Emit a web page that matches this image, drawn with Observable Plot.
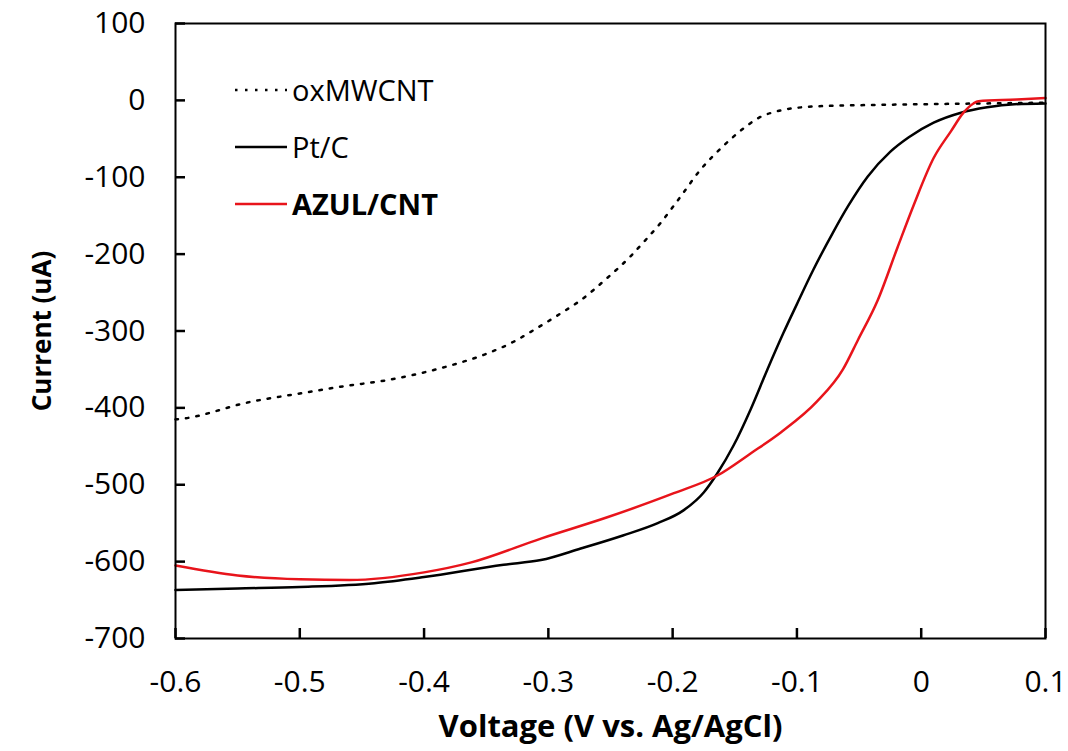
<!DOCTYPE html>
<html>
<head>
<meta charset="utf-8">
<script src="https://cdn.jsdelivr.net/npm/d3@7"></script>
<script src="https://cdn.jsdelivr.net/npm/@observablehq/plot@0.6"></script>
<style>
  html, body { margin: 0; padding: 0; background: #fff; }
  #wrap { position: relative; width: 1068px; height: 751px; font-family: "Open Sans", sans-serif; }
  #wrap > svg { font-family: "Open Sans", sans-serif; }
  g[aria-label="x-axis tick label"] text, g[aria-label="y-axis tick label"] text { font-size: 30px; fill: #000; }
  g[aria-label="x-axis label"] text { font-size: 31px; font-weight: bold; fill: #000; }
  g[aria-label="y-axis label"] text { font-size: 26px; font-weight: bold; fill: #000; }
  #legend { position: absolute; left: 235px; top: 61px; }
  .row { display: flex; align-items: center; height: 57px; }
  .row svg { width: 52px; height: 10px; margin-right: 5px; }
  .row span { font-size: 29px; color: #000; }
</style>
</head>
<body>
<div id="wrap"><div id="legend"></div></div>
<script>
// ---- data (V vs. Ag/AgCl, current in uA) ----
const seriesNames = ["oxMWCNT", "Pt/C", "AZUL/CNT"];

const oxV = [-0.600,-0.594,-0.542,-0.499,-0.465,-0.430,-0.403,-0.377,-0.352,-0.328,-0.312,-0.290,-0.274,-0.254,-0.234,-0.222,-0.210,-0.194,-0.178,-0.159,-0.145,-0.131,-0.113,-0.096,-0.071,-0.040,0.000,0.050,0.100];
const oxI = [-415,-414,-393,-381,-372,-364,-355,-344,-331,-314,-299,-277,-260,-233,-203,-182,-160,-126,-91,-59,-39,-23,-13,-9,-7,-6,-5,-4,-3];

const ptV = [-0.600,-0.550,-0.500,-0.440,-0.400,-0.336,-0.306,-0.274,-0.240,-0.212,-0.191,-0.175,-0.164,-0.151,-0.137,-0.124,-0.111,-0.100,-0.087,-0.071,-0.059,-0.043,-0.025,-0.010,0.010,0.032,0.053,0.075,0.100];
const ptI = [-637,-635,-633,-628,-620,-604,-598,-583,-566,-550,-533,-510,-485,-449,-401,-351,-303,-265,-221,-172,-138,-99,-67,-48,-29,-16,-9,-5,-4];

const azV = [-0.600,-0.550,-0.500,-0.460,-0.400,-0.362,-0.306,-0.252,-0.199,-0.164,-0.137,-0.113,-0.084,-0.063,-0.051,-0.035,-0.019,-0.006,0.010,0.024,0.034,0.042,0.046,0.077,0.100];
const azI = [-605,-618,-623,-624,-614,-601,-570,-542,-511,-488,-459,-432,-392,-350,-312,-260,-191,-136,-75,-40,-16,-4,-1,1,3];

const xTicks = [-0.6,-0.5,-0.4,-0.3,-0.2,-0.1,0,0.1];
const xTickLabels = ["-0.6","-0.5","-0.4","-0.3","-0.2","-0.1","0","0.1"];
const yTicks = [100,0,-100,-200,-300,-400,-500,-600,-700];
const yTickLabels = ["100","0","-100","-200","-300","-400","-500","-600","-700"];

const colors = ["#000000", "#000000", "#e8141b"];

const toRows = (vs, is) => vs.map((v, i) => ({v, i: is[i]}));
const ox = toRows(oxV, oxI), pt = toRows(ptV, ptI), az = toRows(azV, azI);

const W = 1068, H = 751, mL = 175, mR = 23, mT = 23, mB = 113, tickPx = 10;
const xDom = [-0.6, 0.1], yDom = [-700, 100];
// tick length expressed in data units (converted from pixels)
const tickY = tickPx * (yDom[1] - yDom[0]) / (H - mT - mB);
const tickX = tickPx * (xDom[1] - xDom[0]) / (W - mL - mR);
const xTickRows = xTicks.map(v => ({v, a: yDom[0], b: yDom[0] + tickY}));
const yTickRows = yTicks.map(v => ({v, a: xDom[0], b: xDom[0] + tickX}));

const chart = Plot.plot({
  width: W, height: H,
  marginLeft: mL, marginRight: mR, marginTop: mT, marginBottom: mB,
  x: {domain: xDom},
  y: {domain: yDom},
  marks: [
    Plot.line(ox, {x: "v", y: "i", stroke: colors[0], strokeWidth: 2.5, strokeDasharray: "2.5 8", curve: "monotone-x"}),
    Plot.line(pt, {x: "v", y: "i", stroke: colors[1], strokeWidth: 2.5, curve: "monotone-x"}),
    Plot.line(az, {x: "v", y: "i", stroke: colors[2], strokeWidth: 2.5, curve: "monotone-x"}),
    // inward tick marks
    Plot.ruleX(xTickRows, {x: "v", y1: "a", y2: "b", stroke: "#000", strokeWidth: 2.5}),
    Plot.ruleY(yTickRows, {y: "v", x1: "a", x2: "b", stroke: "#000", strokeWidth: 2.5}),
    Plot.frame({stroke: "#000", strokeWidth: 2}),
    Plot.axisX(xTicks, {tickSize: 0, tickPadding: 32,
      tickFormat: d => xTickLabels[xTicks.indexOf(d)],
      label: "Voltage (V vs. Ag/AgCl)", labelAnchor: "center", labelArrow: "none", labelOffset: 98}),
    Plot.axisY(yTicks, {tickSize: 0, tickPadding: 30,
      tickFormat: d => yTickLabels[yTicks.indexOf(d)],
      label: "Current (uA)", labelAnchor: "center", labelArrow: "none", labelOffset: 143})
  ]
});
document.getElementById("wrap").prepend(chart);

// legend
const legend = document.getElementById("legend");
seriesNames.forEach((name, k) => {
  const row = document.createElement("div");
  row.className = "row";
  const dash = k === 0 ? 'stroke-dasharray="2.5 7.5"' : "";
  row.innerHTML = `<svg viewBox="0 0 52 10"><line x1="0" y1="5" x2="52" y2="5" stroke="${colors[k]}" stroke-width="2.5" ${dash}/></svg><span style="font-weight:${k === 2 ? "bold" : "normal"}">${name}</span>`;
  legend.appendChild(row);
});
</script>
</body>
</html>
